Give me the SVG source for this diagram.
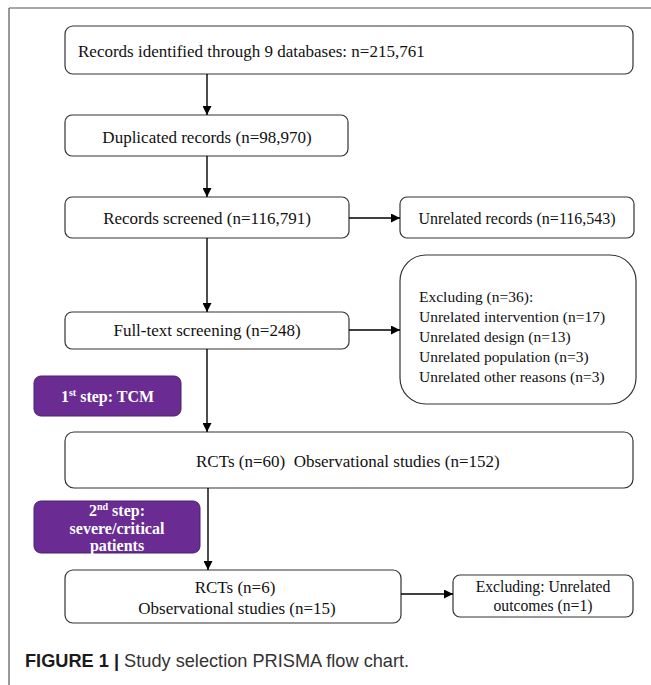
<svg xmlns="http://www.w3.org/2000/svg" width="651" height="685" viewBox="0 0 651 685">
<defs>
<marker id="arr" viewBox="0 0 10 10" refX="10" refY="5" markerWidth="9" markerHeight="9" markerUnits="userSpaceOnUse" orient="auto">
<path d="M0,0 L10,5 L0,10 z" fill="#000"/>
</marker>
<style>
.box{fill:#fff;stroke:#333;stroke-width:1.2}
.step{fill:#6a2c93;stroke:#4a1f6a;stroke-width:1}
.t{font-family:"Liberation Serif","Times New Roman",serif;fill:#111}
.c{text-anchor:middle}
.w{font-family:"Liberation Serif","Times New Roman",serif;font-weight:bold;fill:#fff;text-anchor:middle;font-size:16px}
.conn line{stroke:#000;stroke-width:1.4;marker-end:url(#arr)}
</style>
</defs>
<rect width="651" height="685" fill="#fff"/>
<g id="frame" stroke="#555" stroke-width="1.2" fill="none">
<line x1="9" y1="8" x2="651" y2="8"/>
<line x1="9" y1="8" x2="9" y2="685"/>
</g>

<g id="n1"><rect class="box" x="65" y="26" width="568" height="48" rx="8"/>
<text class="t" x="78" y="57" font-size="17">Records identified through 9 databases: n=215,761</text></g>

<g id="n2"><rect class="box" x="65" y="115" width="283" height="41" rx="7"/>
<text class="t c" x="207" y="143" font-size="17">Duplicated records (n=98,970)</text></g>

<g id="n3"><rect class="box" x="65" y="197" width="284" height="41" rx="7"/>
<text class="t c" x="207" y="224" font-size="17">Records screened (n=116,791)</text></g>

<g id="n4"><rect class="box" x="400" y="197" width="234" height="41" rx="7"/>
<text class="t c" x="517" y="224" font-size="16">Unrelated records (n=116,543)</text></g>

<g id="n5"><rect class="box" x="65" y="312" width="284" height="37" rx="7"/>
<text class="t c" x="207" y="336" font-size="17">Full-text screening (n=248)</text></g>

<g id="n6"><rect class="box" x="400" y="255" width="236" height="149" rx="26"/>
<text class="t" font-size="15.5">
<tspan x="419" y="302">Excluding (n=36):</tspan>
<tspan x="419" y="322">Unrelated intervention (n=17)</tspan>
<tspan x="419" y="342">Unrelated design (n=13)</tspan>
<tspan x="419" y="362">Unrelated population (n=3)</tspan>
<tspan x="419" y="382">Unrelated other reasons (n=3)</tspan>
</text></g>

<g id="step1"><rect class="step" x="34" y="376" width="147" height="40" rx="7"/>
<text class="w" x="107.5" y="402">1<tspan font-size="10" dy="-6">st</tspan><tspan dy="6"> step: TCM</tspan></text></g>

<g id="n7"><rect class="box" x="65" y="432" width="568" height="56" rx="9"/>
<text class="t" x="196" y="467" font-size="17" xml:space="preserve">RCTs (n=60)  Observational studies (n=152)</text></g>

<g id="step2"><rect class="step" x="34" y="501" width="166" height="52" rx="7"/>
<text class="w" x="117" y="516">2<tspan font-size="10" dy="-6">nd</tspan><tspan dy="6"> step:</tspan></text>
<text class="w" x="117" y="533.5">severe/critical</text>
<text class="w" x="117" y="551">patients</text></g>

<g id="n8"><rect class="box" x="65" y="570" width="336" height="53" rx="8"/>
<text class="t c" font-size="17"><tspan x="235" y="593">RCTs (n=6)</tspan><tspan x="237" y="614">Observational studies (n=15)</tspan></text></g>

<g id="n9"><rect class="box" x="453" y="575" width="180" height="42" rx="7"/>
<text class="t c" font-size="15.7"><tspan x="543" y="592">Excluding: Unrelated</tspan><tspan x="543" y="611">outcomes (n=1)</tspan></text></g>

<g id="connectors" class="conn">
<line x1="207" y1="74" x2="207" y2="115"/>
<line x1="207" y1="156" x2="207" y2="197"/>
<line x1="207" y1="238" x2="207" y2="312"/>
<line x1="207" y1="349" x2="207" y2="432"/>
<line x1="208" y1="488" x2="208" y2="570"/>
<line x1="349" y1="218" x2="400" y2="218"/>
<line x1="349" y1="330" x2="400" y2="330"/>
<line x1="401" y1="594" x2="453" y2="594"/>
</g>

<g id="caption"><text x="25" y="667" font-family="Liberation Sans, Arial, sans-serif" font-size="18.2" fill="#333"><tspan font-weight="bold" fill="#1a1a1a">FIGURE 1 |</tspan> Study selection PRISMA flow chart.</text></g>
</svg>
